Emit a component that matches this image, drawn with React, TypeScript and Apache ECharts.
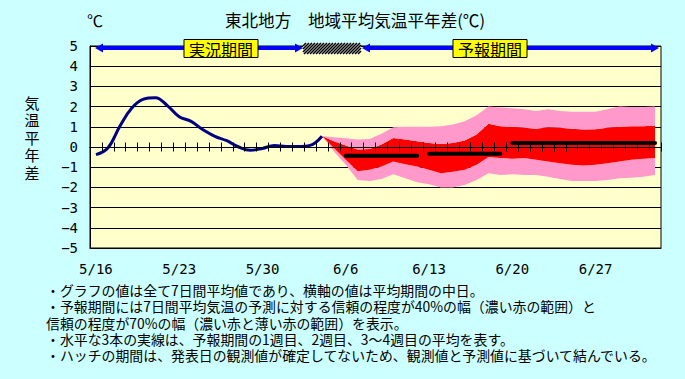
import React, { useEffect, useRef } from "react";
import * as echarts from "echarts";

const categories = [
  "5/16","5/17","5/18","5/19","5/20","5/21","5/22","5/23","5/24","5/25","5/26","5/27","5/28","5/29","5/30","5/31",
  "6/1","6/2","6/3","6/4","6/5","6/6","6/7","6/8","6/9","6/10","6/11","6/12","6/13","6/14","6/15","6/16","6/17","6/18","6/19","6/20",
  "6/21","6/22","6/23","6/24","6/25","6/26","6/27","6/28","6/29","6/30","7/1","7/2",
];

// observed 7-day mean anomaly, from 5/16 onward
const observed = [-0.38, -0.05, 1.02, 1.92, 2.37, 2.44, 2.05, 1.5, 1.27, 0.85, 0.53, 0.31, 0.0, -0.16, -0.07, 0.07, 0.03, 0.03, 0.08, 0.53];

// forecast bands, from 6/4 onward
const forecastStart = "6/4";
const pinkUpper = [0.55,0.48,0.43,0.37,0.4,0.65,0.98,1.0,1.0,1.0,1.03,1.12,1.28,1.57,2.0,1.95,1.92,1.87,1.78,1.87,1.78,1.75,1.75,1.75,1.87,2.0,1.98,1.98,2.0];
const redUpper = [0.55,0.28,0.08,-0.12,-0.1,0.12,0.45,0.37,0.28,0.2,0.15,0.2,0.32,0.62,1.15,1.03,1.0,0.95,0.9,0.98,0.95,0.9,0.87,0.88,0.95,1.0,1.03,1.03,1.07];
const redLower = [0.55,-0.05,-0.63,-1.2,-1.13,-0.97,-0.72,-0.85,-0.97,-1.13,-1.3,-1.22,-1.13,-0.88,-0.5,-0.55,-0.58,-0.55,-0.63,-0.72,-0.8,-0.88,-0.92,-0.88,-0.8,-0.72,-0.63,-0.58,-0.55];
const pinkLower = [0.55,-0.22,-0.88,-1.63,-1.68,-1.58,-1.35,-1.55,-1.75,-1.85,-2.0,-2.0,-1.88,-1.63,-1.3,-1.38,-1.35,-1.38,-1.38,-1.47,-1.58,-1.68,-1.68,-1.68,-1.63,-1.55,-1.52,-1.47,-1.38];

// weekly averages
const weekFrom = ["6/6", "6/13", "6/20"];
const weekTo = ["6/12", "6/19", "7/2"];
const weekValues = [-0.43, -0.33, 0.2];

const yTicks = [-5, -4, -3, -2, -1, 0, 1, 2, 3, 4, 5];

const titleText = "東北地方　地域平均気温平年差(℃)";
const unitText = "℃";
const yNameText = "気\n温\n平\n年\n差";
const observedLabel = "実況期間";
const forecastLabel = "予報期間";
const notes = [
  "・グラフの値は全て7日間平均値であり、横軸の値は平均期間の中日。",
  "・予報期間には7日間平均気温の予測に対する信頼の程度が40%の幅（濃い赤の範囲）と",
  "信頼の程度が70%の幅（濃い赤と薄い赤の範囲）を表示。",
  "・水平な3本の実線は、予報期間の1週目、2週目、3～4週目の平均を表す。",
  "・ハッチの期間は、発表日の観測値が確定してないため、観測値と予測値に基づいて結んでいる。",
];

const JP = "'Noto Sans CJK JP', 'Noto Sans', sans-serif";
const MONO = "'DejaVu Sans Mono', monospace";

function hatchLines(x0: number, y0: number, x1: number, y1: number, step: number) {
  const h = y1 - y0;
  const out: any[] = [];
  for (let c = x0 - h; c < x1; c += step) {
    const t0 = Math.max(0, (x0 - c) / h);
    const t1 = Math.min(1, (x1 - c) / h);
    if (t1 <= t0) continue;
    out.push({
      type: "line",
      z: 101,
      shape: { x1: c + h * t0, y1: y1 - h * t0, x2: c + h * t1, y2: y1 - h * t1 },
      style: { stroke: "#000", lineWidth: 1.6 },
    });
  }
  return out;
}

function arrowHead(tipX: number, y: number, dir: number) {
  const len = 8;
  const half = 4.5;
  return {
    type: "polygon",
    z: 100,
    shape: { points: [[tipX, y], [tipX - dir * len, y - half], [tipX - dir * len, y + half]] },
    style: { fill: "#0000FF" },
  };
}

export default function App() {
  const ref = useRef<HTMLDivElement>(null);
  useEffect(() => {
    document.body.style.margin = "0";
    const chart = echarts.init(ref.current!, null, { renderer: "svg" });
    const n = categories.length;
    const fs = categories.indexOf(forecastStart);
    const full = (arr: number[], start: number) => {
      const d: (number | null)[] = new Array(n).fill(null);
      arr.forEach((v, i) => (d[start + i] = v));
      return d;
    };
    const obsData = full(observed, 0);
    const base = full(pinkLower, fs);
    const d1 = full(redLower.map((v, i) => +(v - pinkLower[i]).toFixed(3)), fs);
    const d2 = full(redUpper.map((v, i) => +(v - redLower[i]).toFixed(3)), fs);
    const d3 = full(pinkUpper.map((v, i) => +(v - redUpper[i]).toFixed(3)), fs);
    const weekSeries = weekValues.map((v, k) => {
      const d: (number | null)[] = new Array(n).fill(null);
      const a = categories.indexOf(weekFrom[k]);
      const b = categories.indexOf(weekTo[k]);
      for (let i = a; i <= b; i++) d[i] = v;
      return {
        type: "line",
        data: d,
        symbol: "none",
        lineStyle: { color: "#000", width: 4, cap: "round" },
        z: 5,
        silent: true,
      };
    });
    const bandCommon = {
      type: "line",
      stack: "band",
      stackStrategy: "all",
      symbol: "none",
      lineStyle: { width: 0, opacity: 0 },
      silent: true,
      z: 2,
    };

    const ax = 48;
    const graphic: any[] = [
      { type: "text", z: 100, x: 355, y: 20, style: { text: titleText, font: `16.6px ${JP}`, fill: "#000", align: "center", verticalAlign: "middle" } },
      { type: "text", z: 100, x: 95, y: 20, style: { text: unitText, font: `16px ${JP}`, fill: "#000", align: "center", verticalAlign: "middle" } },
      { type: "text", z: 100, x: 32, y: 137, style: { text: yNameText, font: `15px ${JP}`, lineHeight: 17.5, fill: "#000", align: "center", verticalAlign: "middle" } },
      // arrows
      { type: "line", z: 100, shape: { x1: 100, y1: ax, x2: 297, y2: ax }, style: { stroke: "#0000FF", lineWidth: 4 } },
      arrowHead(95, ax, -1),
      arrowHead(303, ax, 1),
      { type: "line", z: 100, shape: { x1: 367, y1: ax, x2: 653, y2: ax }, style: { stroke: "#0000FF", lineWidth: 4 } },
      arrowHead(362, ax, -1),
      arrowHead(659, ax, 1),
      // hatch
      { type: "rect", z: 100, shape: { x: 303, y: 43, width: 58, height: 11 }, style: { fill: "#fff" } },
      ...hatchLines(303, 43, 361, 54, 3),
      // label boxes
      { type: "rect", z: 102, shape: { x: 184, y: 39.5, width: 74, height: 18 }, style: { fill: "#FFFF00", stroke: "#000", lineWidth: 1 } },
      { type: "text", z: 103, x: 221, y: 48.5, style: { text: observedLabel, font: `16px ${JP}`, fill: "#000", align: "center", verticalAlign: "middle" } },
      { type: "rect", z: 102, shape: { x: 453, y: 39.5, width: 74, height: 18 }, style: { fill: "#FFFF00", stroke: "#000", lineWidth: 1 } },
      { type: "text", z: 103, x: 490, y: 48.5, style: { text: forecastLabel, font: `16px ${JP}`, fill: "#000", align: "center", verticalAlign: "middle" } },
      // notes as one block
      { type: "text", z: 100, x: 46, y: 282, style: { text: notes.join("\n"), font: `13.9px ${JP}`, lineHeight: 16.3, fill: "#000", align: "left", verticalAlign: "top" } },
    ];

    const zeroAxis = (inside: boolean) => ({
      type: "category",
      data: categories,
      boundaryGap: true,
      position: "bottom",
      z: 10,
      axisLine: { show: true, onZero: true, onZeroAxisIndex: 0, lineStyle: { color: "#000", width: 1 } },
      axisTick: { show: true, interval: 0, inside, length: 4.5, lineStyle: { color: "#000", width: 1 } },
      axisLabel: { show: false },
      splitLine: { show: false },
    });

    chart.setOption({
      animation: false,
      backgroundColor: "#CCFFFF",
      grid: { left: 90, right: 24, top: 46, bottom: 131, show: true, backgroundColor: "#FFFFCC", borderColor: "#000", borderWidth: 1 },
      xAxis: [
        {
          type: "category",
          data: categories,
          boundaryGap: true,
          position: "bottom",
          axisLine: { onZero: false, lineStyle: { color: "#000" } },
          axisTick: { interval: 6, inside: true, length: 5, lineStyle: { color: "#000" } },
          axisLabel: { interval: 6, margin: 14, color: "#000", fontSize: 14, fontFamily: MONO },
          splitLine: { show: false },
        },
        zeroAxis(true),
        zeroAxis(false),
      ],
      yAxis: {
        type: "value",
        min: yTicks[0],
        max: yTicks[yTicks.length - 1],
        interval: 1,
        axisLine: { show: true, lineStyle: { color: "#000" } },
        axisTick: { show: false },
        axisLabel: { color: "#000", fontSize: 14, fontFamily: MONO, margin: 12, formatter: (v: number) => String(v).replace("-", "−") },
        splitLine: { show: true, lineStyle: { color: "#000", width: 1 } },
      },
      series: [
        { ...bandCommon, name: "base", data: base },
        { ...bandCommon, name: "70low", data: d1, areaStyle: { color: "#FF99CC", opacity: 1 } },
        { ...bandCommon, name: "40", data: d2, areaStyle: { color: "#FF0000", opacity: 1 } },
        { ...bandCommon, name: "70high", data: d3, areaStyle: { color: "#FF99CC", opacity: 1 } },
        ...weekSeries,
        {
          type: "line",
          name: "observed",
          data: obsData,
          symbol: "none",
          smooth: 0.4,
          lineStyle: { color: "#000080", width: 3 },
          z: 6,
          silent: true,
        },
      ],
      graphic,
    });
    return () => chart.dispose();
  }, []);
  return <div ref={ref} style={{ width: 685, height: 379 }} />;
}
